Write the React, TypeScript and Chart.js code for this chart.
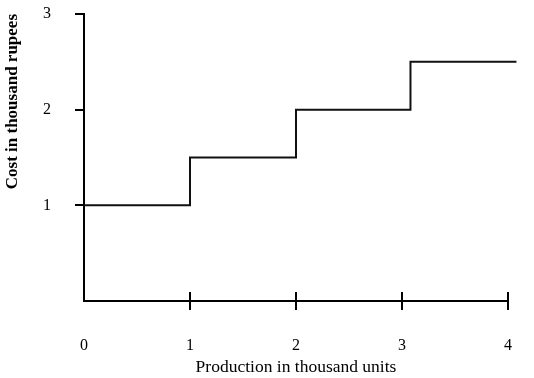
import React, { useEffect, useRef } from "react";
import { Chart, registerables } from "chart.js";

Chart.register(...registerables);

const productionX = [0, 1, 2, 3.08, 4.08];
const costY = [1, 1.5, 2, 2.5, 2.5];
const xTickValues = [0, 1, 2, 3, 4];
const yTickValues = [1, 2, 3];
const xTitle = "Production in thousand units";
const yTitle = "Cost in thousand rupees";

const FONT = "'Liberation Serif', 'Times New Roman', serif";

const crossTicks = {
  id: "crossTicks",
  afterDraw(chart: any) {
    const ctx = chart.ctx;
    const xs = chart.scales.x;
    const ys = chart.scales.y;
    const area = chart.chartArea;
    ctx.save();
    ctx.strokeStyle = "#000";
    ctx.lineWidth = 2;
    ctx.beginPath();
    xTickValues.forEach((v) => {
      if (v === 0) return;
      const px = Math.round(xs.getPixelForValue(v));
      ctx.moveTo(px, area.bottom - 9);
      ctx.lineTo(px, area.bottom + 9);
    });
    yTickValues.forEach((v) => {
      const py = Math.round(ys.getPixelForValue(v));
      ctx.moveTo(area.left - 9, py);
      ctx.lineTo(area.left, py);
    });
    ctx.stroke();
    ctx.restore();
  },
};

const zeroPad = (s: any) => {
  s.paddingTop = 0;
  s.paddingBottom = 0;
  s.paddingLeft = 0;
  s.paddingRight = 0;
};

export default function App() {
  const ref = useRef<HTMLCanvasElement | null>(null);
  useEffect(() => {
    if (!ref.current) return;
    const chart = new Chart(ref.current, {
      type: "line",
      data: {
        datasets: [
          {
            data: productionX.map((x, i) => ({ x, y: costY[i] })),
            stepped: "before",
            borderColor: "#111",
            borderWidth: 2,
            pointRadius: 0,
            fill: false,
            clip: false as any,
          },
        ],
      },
      options: {
        responsive: false,
        animation: false,
        layout: { padding: { top: 14, right: 26, left: 0, bottom: 0 } },
        plugins: { legend: { display: false }, tooltip: { enabled: false } },
        scales: {
          x: {
            type: "linear",
            min: 0,
            max: 4,
            afterBuildTicks: (s: any) => {
              s.ticks = xTickValues.map((v) => ({ value: v }));
            },
            afterFit: (s: any) => {
              s.height = 77;
              zeroPad(s);
            },
            grid: { display: false, drawTicks: false },
            border: { display: true, color: "#000", width: 2 },
            ticks: {
              padding: 35,
              color: "#000",
              font: { family: FONT, size: 16 },
              maxRotation: 0,
              callback: (v: any) => String(v),
            },
            title: {
              display: true,
              text: xTitle,
              color: "#000",
              font: { family: FONT, size: 17.5 },
              padding: { top: 0, bottom: 0 },
            },
          },
          y: {
            type: "linear",
            min: 0,
            max: 3,
            afterBuildTicks: (s: any) => {
              s.ticks = yTickValues.map((v) => ({ value: v }));
            },
            afterFit: (s: any) => {
              s.width = 84;
              zeroPad(s);
            },
            grid: { display: false, drawTicks: false },
            border: { display: true, color: "#000", width: 2 },
            ticks: {
              padding: 33,
              color: "#000",
              font: { family: FONT, size: 16 },
              callback: (v: any) => String(v),
            },
            title: {
              display: true,
              text: yTitle,
              align: "end",
              color: "#000",
              font: { family: FONT, size: 17, weight: "bold" },
              padding: { top: 2, bottom: 0 },
            },
          },
        },
      },
      plugins: [crossTicks],
    });
    return () => chart.destroy();
  }, []);
  return (
    <div style={{ position: "absolute", left: 0, top: 0, width: 534, height: 378, background: "#fff" }}>
      <canvas ref={ref} width={534} height={378} style={{ display: "block" }} />
    </div>
  );
}
